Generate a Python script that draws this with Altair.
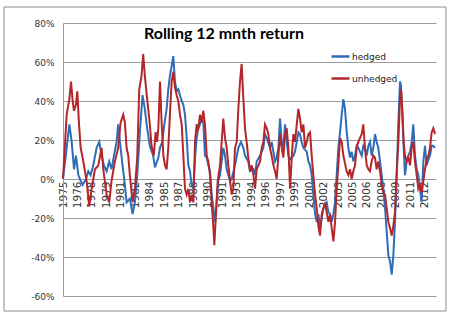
import altair as alt
import pandas as pd

# ---- data (decimal year, % return) ----
hedged_year = [1975.00, 1975.38, 1975.66, 1975.90, 1976.14, 1976.34, 1976.59, 1976.83, 1977.03, 1977.38,
               1977.62, 1977.86, 1978.14, 1978.48, 1978.76, 1979.00, 1979.24, 1979.52, 1979.79, 1980.03,
               1980.28, 1980.55, 1980.72, 1980.90, 1981.17, 1981.41, 1981.59, 1981.93, 1982.21, 1982.45,
               1982.69, 1982.97, 1983.24, 1983.48, 1983.72, 1984.00, 1984.34, 1984.53, 1984.88, 1985.05,
               1985.29, 1985.50, 1985.74, 1985.91, 1986.08, 1986.26, 1986.43, 1986.60, 1986.78, 1986.95,
               1987.12, 1987.30, 1987.47, 1987.64, 1987.82, 1987.99, 1988.16, 1988.33, 1988.51, 1988.68,
               1988.85, 1989.02, 1989.20, 1989.37, 1989.54, 1989.71, 1989.89, 1990.06, 1990.23, 1990.41,
               1990.58, 1990.75, 1990.92, 1991.09, 1991.27, 1991.44, 1991.61, 1991.79, 1991.96, 1992.13,
               1992.31, 1992.48, 1992.82, 1993.17, 1993.44, 1993.69, 1993.86, 1994.20, 1994.38, 1994.73,
               1994.90, 1995.07, 1995.42, 1995.76, 1995.93, 1996.11, 1996.45, 1996.62, 1996.80, 1996.97,
               1997.14, 1997.32, 1997.49, 1997.66, 1997.83, 1998.01, 1998.18, 1998.35, 1998.53, 1998.87,
               1999.04, 1999.22, 1999.39, 1999.56, 1999.73, 1999.91, 2000.25, 2000.43, 2000.60, 2000.77,
               2000.94, 2001.12, 2001.29, 2001.46, 2001.63, 2001.81, 2001.98, 2002.15, 2002.32, 2002.50,
               2002.67, 2002.84, 2003.02, 2003.19, 2003.36, 2003.53, 2003.71, 2003.88, 2004.05, 2004.22,
               2004.40, 2004.57, 2004.74, 2004.91, 2005.08, 2005.26, 2005.43, 2005.60, 2005.77, 2005.95,
               2006.12, 2006.29, 2006.47, 2006.64, 2006.81, 2006.98, 2007.16, 2007.33, 2007.50, 2007.67,
               2007.85, 2008.02, 2008.19, 2008.37, 2008.54, 2008.71, 2008.88, 2009.06, 2009.23, 2009.40,
               2009.57, 2009.75, 2009.92, 2010.02, 2010.16, 2010.30, 2010.44, 2010.61, 2010.78, 2010.96,
               2011.13, 2011.30, 2011.47, 2011.65, 2011.82, 2011.99, 2012.16, 2012.34, 2012.51, 2012.68,
               2012.86, 2013.03, 2013.20, 2013.37, 2013.55]
hedged_value = [0, 16, 28, 19, 5, 12, 2, -1, -3, 0,
                4, 2, 7, 16, 19, 12, 7, 4, 9, 5,
                12, 19, 28, 19, 7, -3, -12, -10, -18, -12,
                2, 24, 43, 36, 26, 17, 12, 6, 11, 16,
                19, 28, 36, 46, 53, 58, 63, 50, 45, 46,
                43, 40, 38, 33, 21, 7, 4, -3, -5, 11,
                21, 26, 28, 31, 29, 12, 11, 7, 4, -8,
                -15, -22, -12, -1, 2, 9, 16, 12, 5, 2,
                -1, 0, 7, 16, 19, 16, 12, 9, 4, 5,
                2, 9, 12, 16, 23, 21, 16, 19, 14, 9,
                11, 16, 31, 19, 16, 28, 19, 12, 10, 12,
                14, 19, 24, 23, 19, 16, 14, 9, 7, 2,
                -8, -18, -22, -18, -25, -20, -15, -13, -12, -17,
                -18, -22, -18, -12, 2, 16, 24, 33, 41, 36,
                24, 16, 11, 14, 9, 12, 17, 16, 14, 12,
                17, 16, 12, 17, 19, 12, 16, 23, 19, 16,
                9, 2, -5, -15, -27, -39, -42, -49, -39, -22,
                1, 29, 50, 48, 33, 16, 2, 9, 12, 14,
                19, 28, 12, 5, 2, -5, -12, 9, 17, 7,
                10, 12, 17, 17, 16]

unhedged_year = [1975.00, 1975.38, 1975.66, 1975.83, 1976.00, 1976.14, 1976.34, 1976.48, 1976.66, 1976.83,
                 1977.03, 1977.45, 1977.72, 1977.97, 1978.31, 1978.66, 1979.00, 1979.17, 1979.52, 1979.79,
                 1980.03, 1980.38, 1980.72, 1980.97, 1981.24, 1981.41, 1981.59, 1981.76, 1981.93, 1982.21,
                 1982.45, 1982.69, 1982.90, 1983.14, 1983.31, 1983.48, 1983.72, 1984.00, 1984.17, 1984.41,
                 1984.60, 1984.75, 1984.88, 1985.05, 1985.22, 1985.40, 1985.57, 1985.74, 1985.91, 1986.08,
                 1986.26, 1986.43, 1986.60, 1986.78, 1986.95, 1987.12, 1987.30, 1987.47, 1987.64, 1987.82,
                 1987.99, 1988.16, 1988.33, 1988.51, 1988.68, 1988.85, 1989.02, 1989.20, 1989.37, 1989.54,
                 1989.71, 1989.89, 1990.06, 1990.23, 1990.41, 1990.58, 1990.68, 1990.85, 1991.03, 1991.27,
                 1991.44, 1991.61, 1991.79, 1991.96, 1992.13, 1992.31, 1992.48, 1992.65, 1992.82, 1993.00,
                 1993.17, 1993.34, 1993.51, 1993.69, 1993.86, 1994.03, 1994.20, 1994.38, 1994.55, 1994.73,
                 1994.90, 1995.07, 1995.24, 1995.42, 1995.59, 1995.76, 1995.93, 1996.11, 1996.28, 1996.45,
                 1996.62, 1996.80, 1996.97, 1997.14, 1997.32, 1997.49, 1997.66, 1997.83, 1998.01, 1998.18,
                 1998.35, 1998.53, 1998.70, 1998.87, 1999.04, 1999.22, 1999.39, 1999.56, 1999.73, 1999.91,
                 2000.08, 2000.25, 2000.43, 2000.60, 2000.77, 2000.94, 2001.12, 2001.29, 2001.46, 2001.63,
                 2001.81, 2001.98, 2002.15, 2002.32, 2002.50, 2002.67, 2002.84, 2003.02, 2003.19, 2003.36,
                 2003.53, 2003.71, 2003.88, 2004.05, 2004.22, 2004.39, 2004.57, 2004.74, 2004.91, 2005.08,
                 2005.26, 2005.43, 2005.60, 2005.77, 2005.95, 2006.12, 2006.29, 2006.47, 2006.64, 2006.81,
                 2006.98, 2007.16, 2007.33, 2007.50, 2007.67, 2007.85, 2008.02, 2008.19, 2008.37, 2008.54,
                 2008.71, 2008.88, 2009.06, 2009.23, 2009.40, 2009.57, 2009.75, 2009.92, 2010.02, 2010.16,
                 2010.30, 2010.44, 2010.61, 2010.78, 2010.96, 2011.13, 2011.30, 2011.47, 2011.65, 2011.82,
                 2011.99, 2012.16, 2012.34, 2012.51, 2012.68, 2012.86, 2013.03, 2013.20, 2013.37, 2013.55]
unhedged_value = [0, 33, 41, 50, 40, 35, 38, 45, 28, 16,
                  11, -1, -14, -5, 5, 7, 16, 5, -8, -12,
                  -1, 9, 16, 29, 33, 29, 16, 12, 2, -12,
                  -5, 11, 46, 53, 64, 53, 41, 28, 17, 12,
                  24, 19, 26, 50, 29, 12, 7, 5, 16, 33,
                  50, 55, 47, 43, 40, 33, 28, 12, -5, -8,
                  -5, -12, -8, -12, 19, 28, 26, 33, 29, 35,
                  28, 12, 9, 2, -12, -25, -34, -18, -1, 7,
                  19, 31, 21, 16, 7, -1, -8, -5, 16, 19,
                  36, 50, 59, 41, 26, 19, 11, 4, 7, 2,
                  -5, 5, 7, 9, 16, 19, 28, 26, 23, 16,
                  12, 7, 4, 0, 12, 23, 16, 11, 23, 26,
                  16, -5, 11, 23, 19, 28, 36, 31, 24, 28,
                  16, 19, 23, 24, 12, 2, -8, -15, -24, -29,
                  -18, -15, -12, -17, -22, -18, -25, -32, -22, -5,
                  7, 21, 19, 12, 8, 4, 2, 5, 0, 4,
                  7, 16, 19, 21, 23, 28, 16, 7, 5, 4,
                  9, 12, 11, 5, 9, 4, -3, -7, -8, -15,
                  -22, -25, -29, -24, -17, 2, 19, 41, 46, 36,
                  19, 12, 9, 11, 7, 16, 19, 9, 2, -5,
                  -3, -7, -1, 5, 10, 12, 16, 24, 26, 23]

series_names = ["hedged", "unhedged"]
series_colors = ["#2E6DB8", "#B5262A"]
tick_positions = [1975, 1976.5, 1978, 1979.5, 1981, 1982.5, 1984, 1985.5, 1987, 1988.5,
                  1990, 1991.5, 1993, 1994.5, 1996, 1997.5, 1999, 2000.5, 2002, 2003.5,
                  2005, 2006.5, 2008, 2009.5, 2011, 2012.5]
y_ticks = [-60, -40, -20, 0, 20, 40, 60, 80]
chart_title = "Rolling 12 mnth return"

df = pd.concat([
    pd.DataFrame({"year": hedged_year, "ret": hedged_value, "series": series_names[0], "ord": 0}),
    pd.DataFrame({"year": unhedged_year, "ret": unhedged_value, "series": series_names[1], "ord": 1}),
], ignore_index=True)

W, H = 373, 273

lines = alt.Chart(df).mark_line(strokeWidth=2).encode(
    x=alt.X("year:Q",
            scale=alt.Scale(domain=[1975, 2013.65], nice=False, zero=False),
            axis=alt.Axis(values=tick_positions, labelExpr="'' + floor(datum.value)",
                          title=None, grid=False, ticks=False, domain=False,
                          offset=-117, labelAngle=-90, labelAlign="right",
                          labelBaseline="middle", labelPadding=2, labelFontSize=10.5,
                          labelFont="DejaVu Sans", labelColor="#333333",
                          labelOverlap=False, labelFlush=False)),
    y=alt.Y("ret:Q",
            scale=alt.Scale(domain=[-60, 80], nice=False),
            axis=alt.Axis(values=y_ticks, labelExpr="datum.value + '%'", title=None,
                          grid=True, gridColor="#9a9a9a", gridWidth=1, ticks=False,
                          domain=True, domainColor="#9a9a9a", labelPadding=9,
                          labelFontSize=9, labelFont="DejaVu Sans", labelColor="#333333")),
    color=alt.Color("series:N",
                    scale=alt.Scale(domain=series_names, range=series_colors),
                    legend=alt.Legend(title=None, orient="none", legendX=267, legendY=23,
                                      symbolType="stroke", symbolSize=324,
                                      symbolStrokeWidth=2.5, rowPadding=6, padding=0,
                                      labelFontSize=9, labelFont="DejaVu Sans",
                                      labelColor="#222222", labelOffset=1)),
    order=alt.Order("ord:Q"),
    detail="series:N",
)

frame = alt.Chart(alt.Data(values=[{}])).mark_rect(
    fill=None, stroke="#8c8c8c", strokeWidth=1
).encode(x=alt.value(-59), x2=alt.value(383), y=alt.value(-16), y2=alt.value(288))

title = alt.Chart(alt.Data(values=[{"t": chart_title}])).mark_text(
    font="Lato", fontWeight="bold", fontSize=16, color="#000000", baseline="middle"
).encode(x=alt.value(161), y=alt.value(10.5), text="t:N")

chart = alt.layer(frame, lines, title).properties(
    width=W, height=H,
    autosize=alt.AutoSizeParams(type="none"),
    padding={"left": 63, "top": 23, "right": 14, "bottom": 20},
    background="white",
).configure_view(stroke=None)

chart.save("out.html", embed_options={"renderer": "svg", "actions": False})
